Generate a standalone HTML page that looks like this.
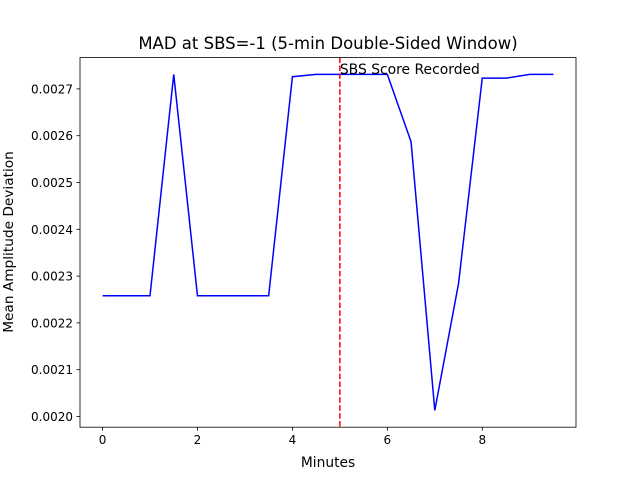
<!DOCTYPE html>
<html><head><meta charset="utf-8"><style>
body{margin:0;background:#fff;}
text{font-family:"DejaVu Sans","Liberation Sans",sans-serif;}
</style></head><body>
<svg id="chart" width="640" height="480" xmlns="http://www.w3.org/2000/svg">
<rect width="640" height="480" fill="#fff"/>
<text x="328" y="49" font-size="16.5" text-anchor="middle">MAD at SBS=-1 (5-min Double-Sided Window)</text>
<text x="328" y="467" font-size="13.8" text-anchor="middle">Minutes</text>
<text transform="translate(13,242) rotate(-90)" font-size="13.7" text-anchor="middle">Mean Amplitude Deviation</text>
<g id="ticks"></g>
<g id="marks"></g>
<rect x="80" y="57.6" width="496" height="369.6" fill="none" stroke="#000" stroke-width="0.8"/>
</svg>
<script>
const minutes=[0,0.5,1,1.5,2,2.5,3,3.5,4,4.5,5,5.5,6,6.5,7,7.5,8,8.5,9,9.5];
const madValues=[0.002258,0.002258,0.002258,0.002731,0.002258,0.002258,0.002258,0.002258,0.002726,0.002731,0.002731,0.002731,0.002731,0.002587,0.002013,0.002284,0.002723,0.002723,0.002731,0.002731];
const xTicks=[0,2,4,6,8];
const yTicks=[0.0020,0.0021,0.0022,0.0023,0.0024,0.0025,0.0026,0.0027];
const markerX=5;
const markerLabel="SBS Score Recorded";
const NS="http://www.w3.org/2000/svg";
const L=80,R=576,T=57.6,B=427.2;
const xmin=Math.min(...minutes),xmax=Math.max(...minutes),xp=(xmax-xmin)*0.05;
const ymin=Math.min(...madValues),ymax=Math.max(...madValues),yp=(ymax-ymin)*0.05;
const sx=v=>L+(v-(xmin-xp))/((xmax+xp)-(xmin-xp))*(R-L);
const sy=v=>B-(v-(ymin-yp))/((ymax+yp)-(ymin-yp))*(B-T);
function mk(t,a){const e=document.createElementNS(NS,t);for(const k in a)e.setAttribute(k,a[k]);return e;}
const tg=document.getElementById('ticks'),mg=document.getElementById('marks');
xTicks.forEach(v=>{const x=sx(v);
const l=mk('line',{x1:x,x2:x,y1:B,y2:B+3.5,stroke:'#000','stroke-width':0.8});

tg.appendChild(l);
const t=mk('text',{x:x,y:B+17,'font-size':12,'text-anchor':'middle'});t.textContent=v;

tg.appendChild(t);});
yTicks.forEach(v=>{const y=sy(v);
const l=mk('line',{x1:L-3.5,x2:L,y1:y,y2:y,stroke:'#000','stroke-width':0.8});

tg.appendChild(l);
const t=mk('text',{x:L-7,y:y+4.5,'font-size':12,'text-anchor':'end'});t.textContent=v.toFixed(4);

tg.appendChild(t);});
const p=mk('polyline',{points:minutes.map((m,i)=>sx(m)+','+sy(madValues[i])).join(' '),fill:'none',stroke:'#0000ff','stroke-width':1.5});

mg.appendChild(p);
const vx=sx(markerX);
const vl=mk('line',{x1:vx,x2:vx,y1:T,y2:B,stroke:'#ff0000','stroke-width':1.5,'stroke-dasharray':'5.5,2.4'});

mg.appendChild(vl);
const vt=mk('text',{x:vx,y:74,'font-size':13.9});vt.textContent=markerLabel;

mg.appendChild(vt);
</script>
</body></html>
